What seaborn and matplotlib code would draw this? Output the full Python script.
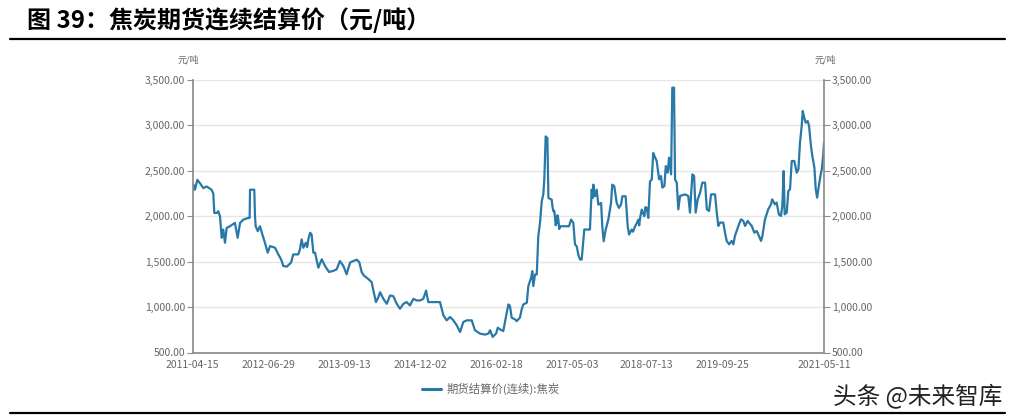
import matplotlib
matplotlib.use("Agg")

import pandas as pd
import matplotlib.pyplot as plt
import matplotlib.ticker as mticker
from matplotlib.lines import Line2D
import seaborn as sns

sns.set_theme(style="white")
plt.rcParams["font.family"] = ["Noto Sans CJK SC", "DejaVu Sans"]

# ── text ──────────────────────────────────────────────────────────────────────
TITLE = "图 39：焦炭期货连续结算价（元/吨）"
UNIT = "元/吨"
SERIES_NAME = "期货结算价(连续):焦炭"
WATERMARK = "头条 @未来智库"

x_tick_dates = ["2011-04-15", "2012-06-29", "2013-09-13", "2014-12-02",
                "2016-02-18", "2017-05-03", "2018-07-13", "2019-09-25",
                "2021-05-11"]
y_ticks = [500, 1000, 1500, 2000, 2500, 3000, 3500]

# ── settlement price (元/吨) ──────────────────────────────────────────────────
d2011 = ["04-15", "04-19", "04-28", "05-12", "05-27", "06-16", "07-05", "08-03",
         "08-13", "08-19", "09-02", "09-11", "09-21", "10-01", "10-10", "10-20",
         "10-30", "11-18", "12-17"]
p2011 = [2280, 2347, 2292, 2401, 2365, 2310, 2328, 2292,
         2250, 2036, 2036, 2055, 2000, 1763, 1854, 1708,
         1872, 1890, 1927]

d2012 = ["01-02", "01-16", "02-04", "03-04", "03-12", "03-14", "04-08", "04-12",
         "04-16", "04-28", "05-11", "05-25", "06-09", "06-25", "07-09", "08-07",
         "08-26", "09-11", "09-24", "10-14", "11-08", "11-21", "12-20", "12-30"]
p2012 = [1763, 1927, 1963, 1982, 1982, 2292, 2292, 2000,
         1890, 1836, 1890, 1800, 1708, 1599, 1672, 1653,
         1580, 1526, 1453, 1445, 1489, 1580, 1580, 1635]

d2013 = ["01-09", "01-19", "02-02", "02-10", "02-17", "02-27", "03-08", "03-18",
         "03-28", "04-16", "05-06", "05-25", "06-17", "07-12", "08-01", "08-20",
         "09-09", "09-28", "10-18", "10-28", "11-26", "12-11", "12-25"]
p2013 = [1745, 1653, 1708, 1660, 1745, 1818, 1800, 1599,
         1599, 1434, 1526, 1453, 1387, 1398, 1416, 1507,
         1453, 1361, 1489, 1500, 1522, 1493, 1383]

d2014 = ["01-07", "02-01", "02-21", "03-03", "03-18", "04-01", "04-11", "04-30",
         "05-20", "06-08", "06-27", "07-17", "08-05", "08-25", "09-13", "10-02",
         "10-22", "11-10", "11-30", "12-19"]
p2014 = [1347, 1310, 1274, 1182, 1055, 1109, 1164, 1091,
         1036, 1128, 1120, 1036, 982, 1036, 1055, 1018,
         1091, 1073, 1073, 1091]

d2015 = ["01-04", "01-17", "03-26", "04-15", "05-04", "05-24", "06-12", "07-02",
         "07-21", "08-09", "08-29", "09-27", "10-16", "11-14", "12-14"]
p2015 = [1182, 1055, 1055, 909, 854, 891, 854, 799,
         726, 836, 854, 854, 745, 708, 697]

d2016 = ["01-02", "01-12", "01-27", "02-16", "02-26", "03-10", "03-29", "04-18",
         "04-28", "05-07", "05-17", "06-05", "06-15", "07-04", "07-14", "07-24",
         "08-13", "08-22", "09-07", "09-14", "09-20", "09-30", "10-10", "10-19",
         "10-29", "11-08", "11-17", "11-23", "12-01", "12-11", "12-17"]
p2016 = [708, 745, 672, 708, 773, 755, 736, 938,
         1029, 1011, 883, 865, 846, 883, 974, 1029,
         1048, 1231, 1322, 1396, 1231, 1359, 1359, 1780,
         1927, 2165, 2238, 2403, 2879, 2861, 2201]

d2017 = ["01-05", "01-10", "01-15", "01-20", "01-24", "01-28", "02-03", "02-08",
         "02-13", "02-18", "02-23", "04-16", "04-28", "05-11", "05-21", "05-31",
         "06-09", "06-19", "06-29", "07-14", "08-16", "08-26", "09-01", "09-05",
         "09-10", "09-15", "09-24", "10-04", "10-20", "10-27", "11-04", "11-16",
         "12-01", "12-17", "12-24"]
p2017 = [2183, 2100, 2055, 2060, 2000, 1900, 1927, 2010,
         1963, 1860, 1890, 1890, 1963, 1927, 1689, 1670,
         1579, 1524, 1524, 1854, 1854, 2293, 2200, 2348,
         2250, 2220, 2293, 2128, 2146, 1890, 1725, 1854,
         1963, 2146, 2348]

d2018 = ["01-05", "01-19", "02-01", "02-13", "02-21", "03-12", "03-24", "04-01",
         "04-16", "04-24", "05-06", "05-15", "05-25", "05-30", "06-05", "06-14",
         "06-20", "06-29", "07-05", "07-13", "07-22", "08-01", "08-11", "08-20",
         "08-30", "09-09", "09-23", "10-04", "10-12", "10-24", "11-01", "11-12",
         "11-20", "12-02", "12-09", "12-19", "12-25"]
p2018 = [2330, 2146, 2092, 2128, 2220, 2220, 1890, 1799,
         1854, 1830, 1890, 1920, 1963, 1900, 1990, 2073,
         2040, 2000, 2100, 2092, 1982, 2385, 2403, 2696,
         2650, 2608, 2406, 2443, 2315, 2333, 2553, 2480,
         2645, 2461, 3416, 3416, 2406]

d2019 = ["01-04", "01-13", "01-23", "02-21", "03-12", "03-22", "04-05", "04-15",
         "04-24", "05-06", "05-20", "06-02", "06-18", "06-28", "07-11", "07-23",
         "08-15", "08-25", "09-03", "09-13", "10-02", "10-12", "10-22", "11-05",
         "11-20", "11-30", "12-09", "12-29"]
p2019 = [2370, 2076, 2223, 2241, 2223, 2040, 2461, 2443,
         2040, 2186, 2260, 2370, 2370, 2076, 2058, 2241,
         2241, 2040, 1893, 1930, 1930, 1819, 1728, 1691,
         1728, 1691, 1783, 1893]

d2020 = ["01-13", "01-27", "02-06", "02-21", "03-16", "03-31", "04-14", "04-27",
         "05-09", "05-17", "06-01", "06-20", "07-06", "07-13", "07-29", "08-08",
         "08-21", "09-02", "09-10", "09-18", "09-24", "10-06", "10-15", "10-25",
         "11-04", "11-19", "12-03", "12-13", "12-22"]
p2020 = [1966, 1948, 1893, 1948, 1893, 1819, 1838, 1783,
         1728, 1783, 1966, 2076, 2131, 2186, 2131, 2150,
         2021, 2003, 2113, 2498, 2021, 2040, 2278, 2296,
         2608, 2608, 2480, 2517, 2810]

d2021 = ["01-01", "01-07", "01-16", "01-24", "02-05", "02-13", "02-24", "03-04",
         "03-16", "03-24", "04-01", "04-08", "04-20", "04-28", "05-06", "05-11"]
p2021 = [2993, 3159, 3085, 3030, 3048, 2993, 2773, 2663,
         2535, 2296, 2205, 2296, 2443, 2517, 2663, 2810]

years = {2011: (d2011, p2011), 2012: (d2012, p2012), 2013: (d2013, p2013),
         2014: (d2014, p2014), 2015: (d2015, p2015), 2016: (d2016, p2016),
         2017: (d2017, p2017), 2018: (d2018, p2018), 2019: (d2019, p2019),
         2020: (d2020, p2020), 2021: (d2021, p2021)}

frames = []
for yr, (days, prices) in years.items():
    assert len(days) == len(prices), yr
    frames.append(pd.DataFrame({"date": pd.to_datetime([f"{yr}-{d}" for d in days]),
                                "price": prices}))
df = pd.concat(frames, ignore_index=True)

# ── style ─────────────────────────────────────────────────────────────────────
LINE = "#2878a8"
AXIS = "#8c8c8c"
LABEL = "#666666"
GRID = "#e6e6e6"

W, H = 1016, 420
fig = plt.figure(figsize=(W / 100, H / 100), dpi=100)
fig.patch.set_facecolor("white")

left, right, top, bottom = 192.7, 824.0, 80.0, 352.5
ax = fig.add_axes([left / W, 1 - bottom / H, (right - left) / W, (bottom - top) / H])

sns.lineplot(data=df, x="date", y="price", ax=ax, color=LINE, lw=1.6,
             legend=False, estimator=None)

xt = pd.to_datetime(x_tick_dates)
ax.set_xlim(xt[0], xt[-1])
ax.set_xticks(xt)
ax.set_xticklabels(x_tick_dates)
ax.set_ylim(y_ticks[0], y_ticks[-1])
ax.set_yticks(y_ticks)
ax.yaxis.set_major_formatter(mticker.StrMethodFormatter("{x:,.2f}"))
ax.set_xlabel("")
ax.set_ylabel("")

ax.yaxis.grid(True, color=GRID, lw=1)
ax.xaxis.grid(False)
for s in ("top", "right"):
    ax.spines[s].set_visible(False)
ax.spines["left"].set_color(AXIS)
ax.spines["bottom"].set_color(AXIS)
ax.tick_params(axis="both", direction="out", length=4, width=0.8, color=AXIS,
               labelsize=7.5, labelcolor=LABEL, pad=1.5)

# mirrored axis on the right
ax2 = ax.twinx()
ax2.set_ylim(ax.get_ylim())
ax2.set_yticks(y_ticks)
ax2.yaxis.set_major_formatter(mticker.StrMethodFormatter("{x:,.2f}"))
for s in ("top", "left", "bottom"):
    ax2.spines[s].set_visible(False)
ax2.spines["right"].set_color(AXIS)
ax2.tick_params(axis="y", direction="out", length=4, width=0.8, color=AXIS,
                labelsize=7.5, labelcolor=LABEL, pad=1.5)
ax2.grid(False)

# unit labels
fig.text(188 / W, 1 - 60 / H, UNIT, ha="center", va="center", fontsize=6.5, color=LABEL)
fig.text(825 / W, 1 - 60 / H, UNIT, ha="center", va="center", fontsize=6.5, color=LABEL)

# legend
handle = Line2D([], [], color=LINE, lw=2.2)
fig.legend([handle], [SERIES_NAME], loc="center", bbox_to_anchor=(491 / W, 1 - 389 / H),
           frameon=False, fontsize=8.2, handlelength=1.6, handletextpad=0.5,
           labelcolor=LABEL)

# title and rules
fig.text(27 / W, 1 - 20 / H, TITLE, ha="left", va="center", fontsize=17.3,
         fontweight="bold", color="black")
fig.add_artist(Line2D([10 / W, 1005 / W], [1 - 39 / H] * 2, color="black", lw=1.6))
fig.add_artist(Line2D([10 / W, 1005 / W], [1 - 413 / H] * 2, color="black", lw=1.6))

fig.text(1002 / W, 1 - 396 / H, WATERMARK, ha="right", va="center", fontsize=17,
         color="#222222")

fig.savefig("out.png", dpi=100)
